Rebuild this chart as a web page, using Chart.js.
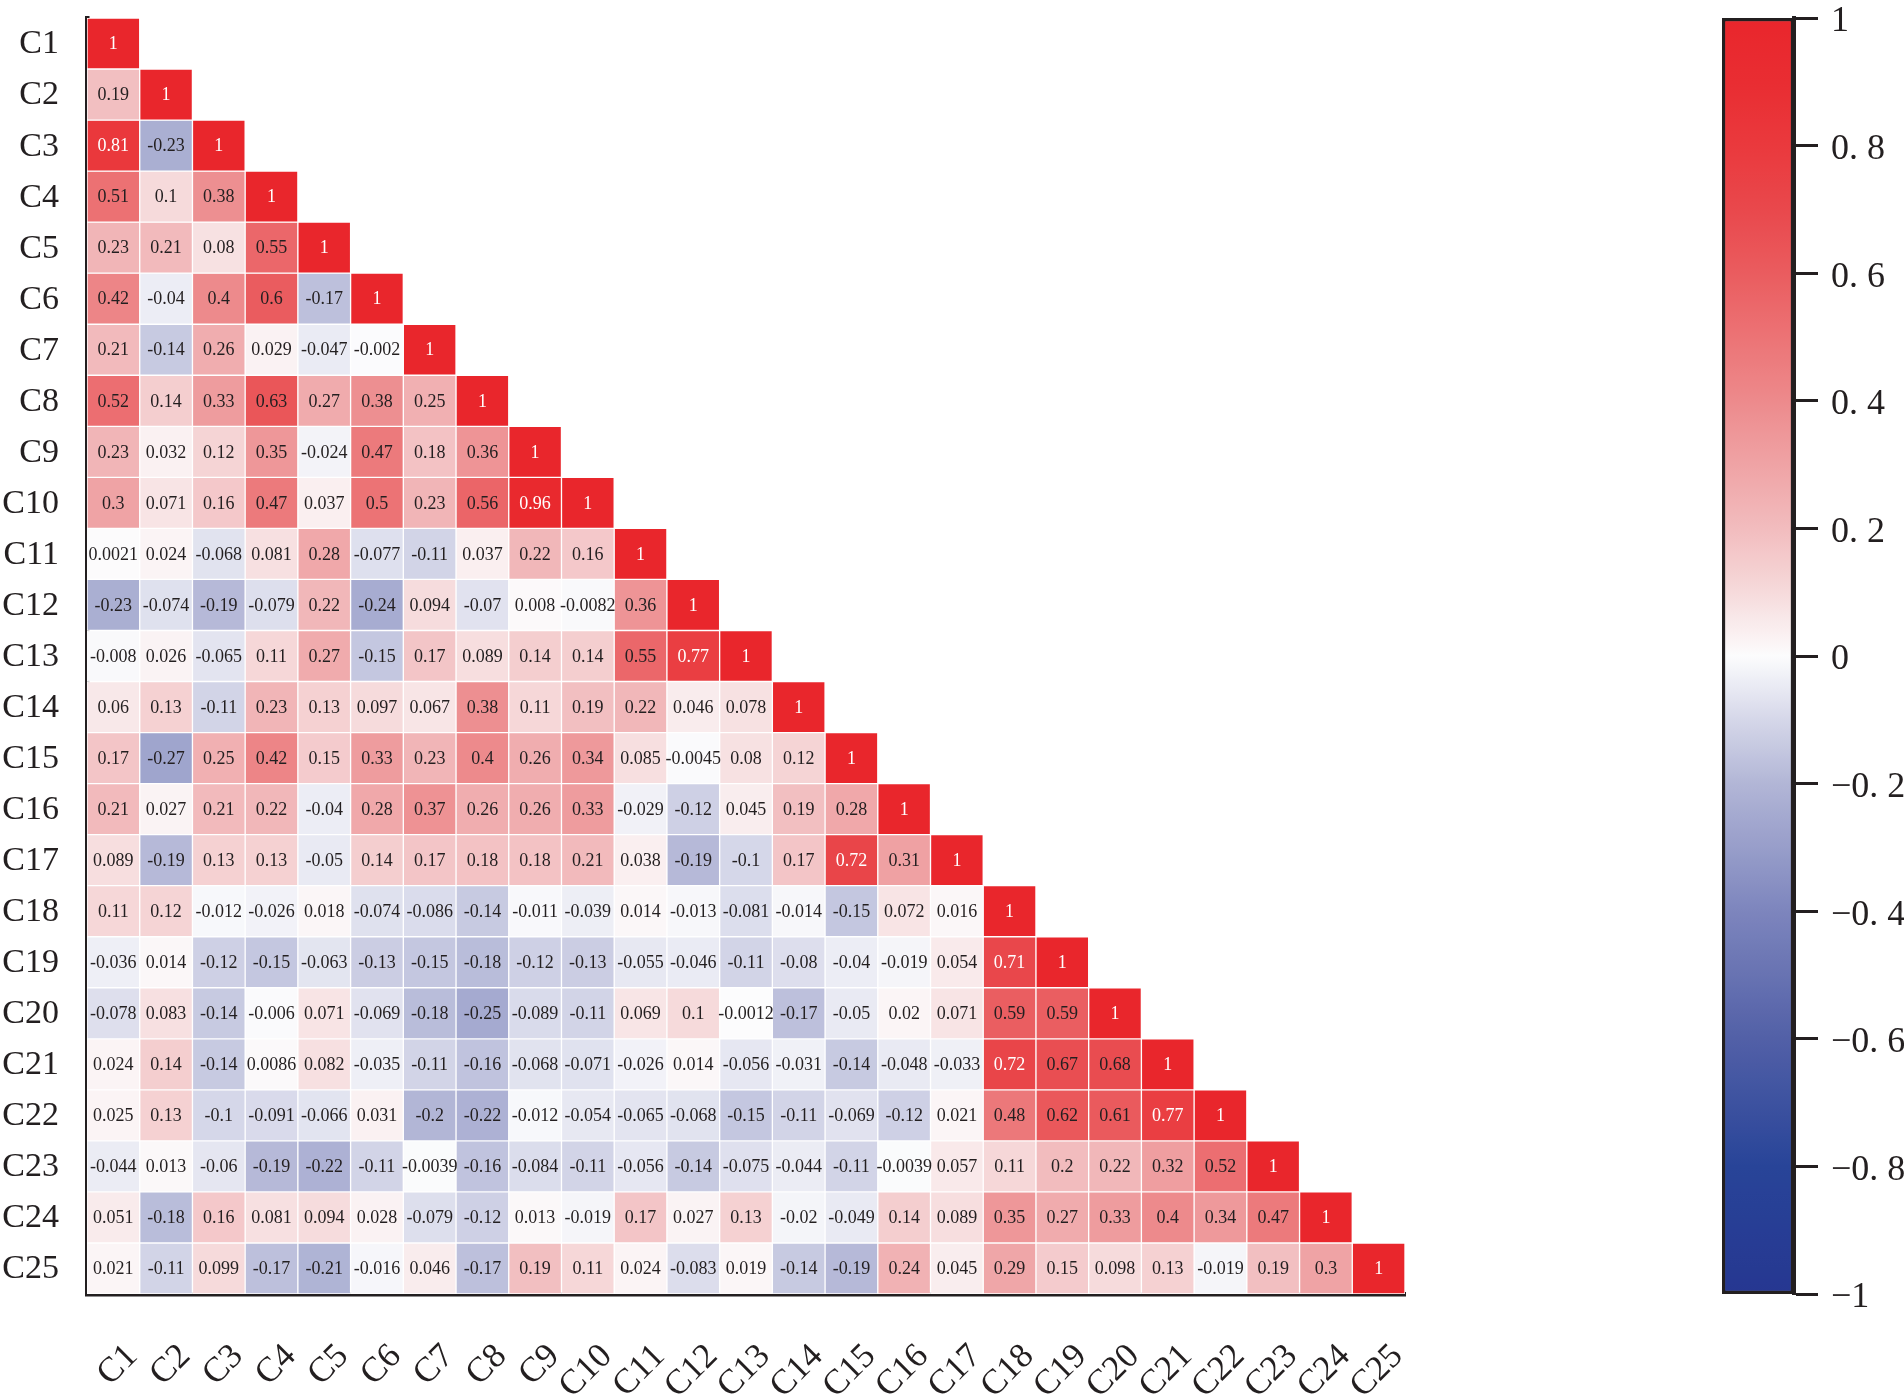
<!DOCTYPE html>
<html>
<head>
<meta charset="utf-8">
<script src="https://cdn.jsdelivr.net/npm/chart.js@4.4.1/dist/chart.umd.min.js"></script>
<style>
html,body{margin:0;padding:0;background:#ffffff;}
#wrap{position:relative;width:1904px;height:1400px;background:#ffffff;}
#heat{position:absolute;left:0;top:0;}
#cbar{position:absolute;left:1700px;top:0;}
</style>
</head>
<body>
<div id="wrap">
<canvas id="heat" width="1450" height="1400"></canvas>
<canvas id="cbar" width="204" height="1400"></canvas>
</div>
<script>
// ---------------- data ----------------
const labels = ['C1','C2','C3','C4','C5','C6','C7','C8','C9','C10','C11','C12','C13','C14','C15','C16','C17','C18','C19','C20','C21','C22','C23','C24','C25'];

const r1  = [1];
const r2  = [0.19, 1];
const r3  = [0.81, -0.23, 1];
const r4  = [0.51, 0.1, 0.38, 1];
const r5  = [0.23, 0.21, 0.08, 0.55, 1];
const r6  = [0.42, -0.04, 0.4, 0.6, -0.17, 1];
const r7  = [0.21, -0.14, 0.26, 0.029, -0.047, -0.002, 1];
const r8  = [0.52, 0.14, 0.33, 0.63, 0.27, 0.38, 0.25, 1];
const r9  = [0.23, 0.032, 0.12, 0.35, -0.024, 0.47, 0.18, 0.36, 1];
const r10 = [0.3, 0.071, 0.16, 0.47, 0.037, 0.5, 0.23, 0.56, 0.96, 1];
const r11 = [0.0021, 0.024, -0.068, 0.081, 0.28, -0.077, -0.11, 0.037, 0.22, 0.16, 1];
const r12 = [-0.23, -0.074, -0.19, -0.079, 0.22, -0.24, 0.094, -0.07, 0.008, -0.0082, 0.36, 1];
const r13 = [-0.008, 0.026, -0.065, 0.11, 0.27, -0.15, 0.17, 0.089, 0.14, 0.14, 0.55, 0.77, 1];
const r14 = [0.06, 0.13, -0.11, 0.23, 0.13, 0.097, 0.067, 0.38, 0.11, 0.19, 0.22, 0.046, 0.078, 1];
const r15 = [0.17, -0.27, 0.25, 0.42, 0.15, 0.33, 0.23, 0.4, 0.26, 0.34, 0.085, -0.0045, 0.08, 0.12, 1];
const r16 = [0.21, 0.027, 0.21, 0.22, -0.04, 0.28, 0.37, 0.26, 0.26, 0.33, -0.029, -0.12, 0.045, 0.19, 0.28, 1];
const r17 = [0.089, -0.19, 0.13, 0.13, -0.05, 0.14, 0.17, 0.18, 0.18, 0.21, 0.038, -0.19, -0.1, 0.17, 0.72, 0.31, 1];
const r18 = [0.11, 0.12, -0.012, -0.026, 0.018, -0.074, -0.086, -0.14, -0.011, -0.039, 0.014, -0.013, -0.081, -0.014, -0.15, 0.072, 0.016, 1];
const r19 = [-0.036, 0.014, -0.12, -0.15, -0.063, -0.13, -0.15, -0.18, -0.12, -0.13, -0.055, -0.046, -0.11, -0.08, -0.04, -0.019, 0.054, 0.71, 1];
const r20 = [-0.078, 0.083, -0.14, -0.006, 0.071, -0.069, -0.18, -0.25, -0.089, -0.11, 0.069, 0.1, -0.0012, -0.17, -0.05, 0.02, 0.071, 0.59, 0.59, 1];
const r21 = [0.024, 0.14, -0.14, 0.0086, 0.082, -0.035, -0.11, -0.16, -0.068, -0.071, -0.026, 0.014, -0.056, -0.031, -0.14, -0.048, -0.033, 0.72, 0.67, 0.68, 1];
const r22 = [0.025, 0.13, -0.1, -0.091, -0.066, 0.031, -0.2, -0.22, -0.012, -0.054, -0.065, -0.068, -0.15, -0.11, -0.069, -0.12, 0.021, 0.48, 0.62, 0.61, 0.77, 1];
const r23 = [-0.044, 0.013, -0.06, -0.19, -0.22, -0.11, -0.0039, -0.16, -0.084, -0.11, -0.056, -0.14, -0.075, -0.044, -0.11, -0.0039, 0.057, 0.11, 0.2, 0.22, 0.32, 0.52, 1];
const r24 = [0.051, -0.18, 0.16, 0.081, 0.094, 0.028, -0.079, -0.12, 0.013, -0.019, 0.17, 0.027, 0.13, -0.02, -0.049, 0.14, 0.089, 0.35, 0.27, 0.33, 0.4, 0.34, 0.47, 1];
const r25 = [0.021, -0.11, 0.099, -0.17, -0.21, -0.016, 0.046, -0.17, 0.19, 0.11, 0.024, -0.083, 0.019, -0.14, -0.19, 0.24, 0.045, 0.29, 0.15, 0.098, 0.13, -0.019, 0.19, 0.3, 1];

const matrix = [r1,r2,r3,r4,r5,r6,r7,r8,r9,r10,r11,r12,r13,r14,r15,r16,r17,r18,r19,r20,r21,r22,r23,r24,r25];

const cbTicks = [1, 0.8, 0.6, 0.4, 0.2, 0, -0.2, -0.4, -0.6, -0.8, -1];
const cbTickLabels = ['1', '0. 8', '0. 6', '0. 4', '0. 2', '0', '\u22120. 2', '\u22120. 4', '\u22120. 6', '\u22120. 8', '\u22121'];

// ---------------- colour map ----------------
const stopV = [-1, -0.8, -0.6, -0.4, -0.2, -0.1, 0, 0.1, 0.2, 0.3, 0.4, 0.5, 0.6, 0.7, 0.8, 0.9, 1];
const stopC = [
  [38,55,145],[40,68,152],[82,96,167],[125,133,189],[178,182,214],[213,215,233],
  [252,252,253],
  [246,218,219],[242,188,190],[239,163,165],[237,138,140],[236,115,117],[234,92,95],[233,72,76],[234,57,61],[233,45,50],[233,38,44]
];
function colorFor(v) {
  v = Math.max(-1, Math.min(1, v));
  let i = 0;
  while (i < stopV.length - 2 && v > stopV[i + 1]) i++;
  const t = (v - stopV[i]) / (stopV[i + 1] - stopV[i]);
  const a = stopC[i], b = stopC[i + 1];
  const c = a.map((x, k) => Math.round(x + (b[k] - x) * t));
  return 'rgb(' + c.join(',') + ')';
}

const FONT = '"Liberation Serif", "Times New Roman", serif';
const INK = '#231f20';

// ---------------- cell text plugin ----------------
const cellText = {
  id: 'cellText',
  afterDatasetsDraw(chart) {
    const ctx = chart.ctx;
    ctx.save();
    ctx.font = '18px ' + FONT;
    ctx.textAlign = 'center';
    ctx.textBaseline = 'middle';
    chart.data.datasets.forEach((ds, i) => {
      const meta = chart.getDatasetMeta(i);
      meta.data.forEach((el, j) => {
        if (ds.data[j] == null) return;
        const v = matrix[i][j];
        const p = el.getProps(['x', 'y', 'base'], true);
        ctx.fillStyle = v >= 0.7 ? '#ffffff' : INK;
        ctx.fillText(String(v), p.x, (p.y + p.base) / 2 + 1);
      });
    });
    ctx.restore();
  }
};

// ---------------- heat map ----------------
new Chart(document.getElementById('heat'), {
  type: 'bar',
  data: {
    labels: labels,
    datasets: matrix.map((row, i) => ({
      label: labels[i],
      data: labels.map((_, j) => j < row.length ? [i + 0.5, i + 1.5] : null),
      backgroundColor: labels.map((_, j) => j < row.length ? colorFor(row[j]) : 'rgba(0,0,0,0)'),
      borderColor: '#ffffff',
      borderWidth: 1,
      borderSkipped: false,
      barPercentage: 1,
      categoryPercentage: 1,
      grouped: false
    }))
  },
  options: {
    responsive: false,
    animation: false,
    layout: { padding: { top: 18, right: 45, left: 0, bottom: 0 } },
    plugins: { legend: { display: false }, tooltip: { enabled: false } },
    scales: {
      x: {
        type: 'category',
        offset: true,
        grid: { display: false, drawTicks: false },
        border: { display: true, width: 4.5, color: INK },
        ticks: {
          font: { family: FONT, size: 35 },
          color: INK,
          maxRotation: 45,
          minRotation: 45,
          padding: 42,
          labelOffset: 19,
          autoSkip: false
        },
        afterFit(s) { s.height = 106; s.paddingLeft = 0; s.paddingRight = 0; }
      },
      y: {
        type: 'linear',
        reverse: true,
        min: 0.5,
        max: 25.5,
        grid: { display: false, drawTicks: false },
        border: { display: true, width: 4.5, color: INK },
        afterBuildTicks(s) { s.ticks = labels.map((_, i) => ({ value: i + 1 })); },
        ticks: {
          font: { family: FONT, size: 34 },
          color: INK,
          padding: 28,
          labelOffset: 1,
          autoSkip: false,
          callback: (v) => labels[Math.round(v) - 1]
        },
        afterFit(s) { s.width = 87; s.paddingTop = 0; s.paddingBottom = 0; }
      }
    }
  },
  plugins: [cellText]
});

// ---------------- colour bar ----------------
new Chart(document.getElementById('cbar'), {
  type: 'bar',
  data: {
    labels: ['scale'],
    datasets: [{
      data: [[-1, 1]],
      backgroundColor(ctx) {
        const chart = ctx.chart;
        const area = chart.chartArea;
        const ys = chart.scales.y;
        if (!area || !ys) return 'rgba(0,0,0,0)';
        const g = chart.ctx.createLinearGradient(0, area.top, 0, area.bottom);
        const h = area.bottom - area.top;
        for (let k = 0; k <= 100; k++) {
          const v = 1 - k * 0.02;
          const pos = (ys.getPixelForValue(v) - area.top) / h;
          g.addColorStop(Math.max(0, Math.min(1, pos)), colorFor(v));
        }
        return g;
      },
      borderColor: INK,
      borderWidth: 3.5,
      borderSkipped: false,
      barPercentage: 1,
      categoryPercentage: 1
    }]
  },
  options: {
    responsive: false,
    animation: false,
    layout: { padding: { left: 22, top: 18, bottom: 106, right: 0 } },
    plugins: { legend: { display: false }, tooltip: { enabled: false } },
    scales: {
      x: { display: false },
      y: {
        position: 'right',
        min: -1,
        max: 1,
        afterBuildTicks(s) { s.ticks = cbTicks.map(v => ({ value: v })); },
        grid: { drawOnChartArea: false, drawTicks: true, tickLength: 24, tickWidth: 3, tickColor: INK },
        border: { display: true, width: 4, color: INK },
        ticks: {
          padding: 13,
          labelOffset: 4,
          autoSkip: false,
          font: { family: FONT, size: 36 },
          color: INK,
          callback: (v, i) => cbTickLabels[i]
        },
        afterFit(s) { s.width = 110; s.paddingTop = 0; s.paddingBottom = 0; }
      }
    }
  }
});
</script>
</body>
</html>
